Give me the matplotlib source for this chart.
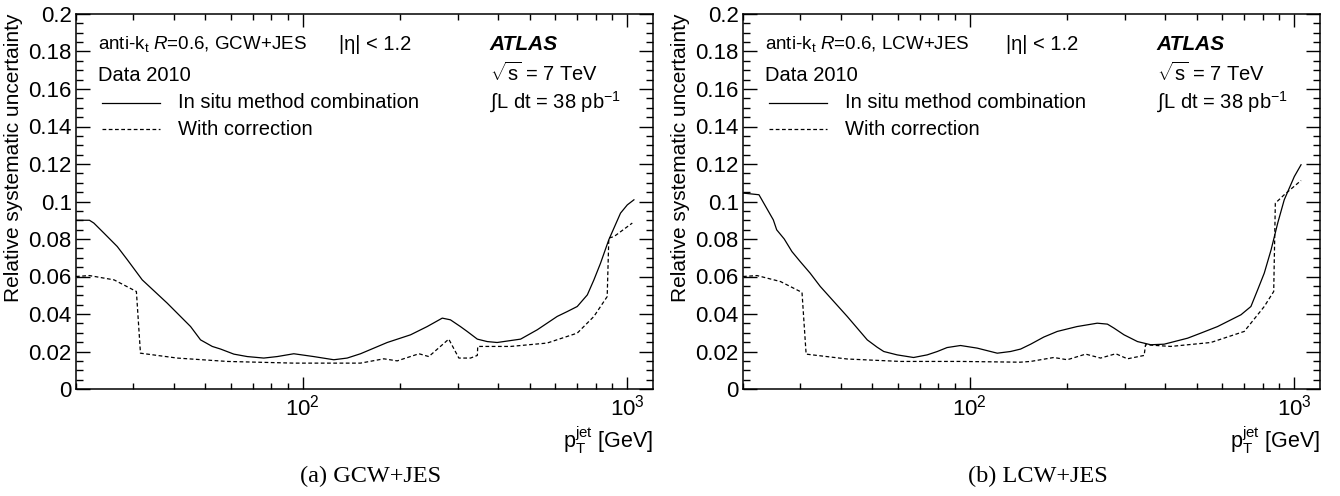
import math
import matplotlib
matplotlib.use("Agg")
import matplotlib.pyplot as plt
from matplotlib.ticker import FixedLocator, MultipleLocator, FuncFormatter, LogLocator, NullFormatter

plt.rcParams['font.family'] = ['Liberation Sans', 'DejaVu Sans']
plt.rcParams['mathtext.fontset'] = 'custom'
plt.rcParams['mathtext.rm'] = 'Liberation Sans'
plt.rcParams['mathtext.it'] = 'Liberation Sans:italic'
plt.rcParams['mathtext.bf'] = 'Liberation Sans:bold'

# GCW+JES
gcw_pt = [20, 22, 22.7, 24.4, 26.8, 28.8, 32, 38.2, 45.1, 48.4, 52.6, 55.8, 61.3, 67.4, 75.8,
          83.4, 93.8, 108, 124.6, 137, 150.6, 182, 214.8, 241.7, 269, 285, 306, 321, 345, 370,
          397, 469, 528, 608, 653, 701, 753, 789, 827, 877, 953, 1000, 1048]
gcw_insitu = [0.090, 0.090, 0.0885, 0.0831, 0.076, 0.0689, 0.0582, 0.0458, 0.0333, 0.0262,
              0.0227, 0.0213, 0.0186, 0.0173, 0.0165, 0.0173, 0.0188, 0.0173, 0.0156, 0.0165,
              0.0188, 0.0248, 0.0289, 0.0333, 0.0378, 0.0369, 0.0333, 0.0307, 0.0266, 0.0253,
              0.0248, 0.0266, 0.0316, 0.0387, 0.0413, 0.044, 0.0502, 0.0582, 0.0671, 0.0796,
              0.0938, 0.0982, 0.1009]
gcw_pt_corr = [20, 22, 26.2, 30.7, 31.6, 41, 58.5, 93.8, 150.6, 177.7, 195.4, 228, 244.5,
               281.7, 302.6, 328.7, 345, 346, 437, 566, 701, 789, 867, 877, 910, 1036]
gcw_corr = [0.060, 0.0605, 0.0582, 0.052, 0.0191, 0.0165, 0.0147, 0.0138, 0.0138, 0.0161,
            0.015, 0.0188, 0.0173, 0.0266, 0.0165, 0.0165, 0.0179, 0.0227, 0.0227, 0.0245,
            0.0298, 0.0387, 0.0493, 0.0805, 0.0813, 0.0885]

# LCW+JES
lcw_pt = [20, 22.4, 24.8, 25.4, 26.8, 28.3, 30.0, 32.2, 34.6, 41.9, 48.3, 51.8, 54.3, 59.7,
          67.1, 73.9, 79.4, 85.1, 93.6, 105.4, 121.5, 133.5, 143.4, 154, 169, 186, 214, 247,
          265.5, 278, 298.7, 328.6, 361, 397, 469, 515, 580, 685, 735, 771, 808, 848, 889,
          931, 1000, 1049]
lcw_insitu = [0.1045, 0.1036, 0.0902, 0.0849, 0.080, 0.0733, 0.068, 0.0618, 0.0547, 0.0387,
              0.0262, 0.0223, 0.020, 0.0182, 0.0168, 0.0182, 0.020, 0.0221, 0.0232, 0.0218,
              0.0191, 0.020, 0.0213, 0.0239, 0.0277, 0.0307, 0.0333, 0.0351, 0.0346, 0.0325,
              0.0289, 0.0253, 0.0236, 0.0239, 0.0271, 0.0298, 0.0333, 0.0396, 0.044, 0.0529,
              0.0618, 0.0742, 0.0885, 0.1009, 0.1133, 0.1196]
lcw_pt_corr = [20, 22.1, 26.1, 30.4, 31.3, 41.9, 61.1, 93.6, 143, 154, 181.5, 199.7, 227.5,
               253, 281.8, 306, 344.6, 347.9, 416, 553, 701, 808, 864, 874, 931, 1049]
lcw_corr = [0.060, 0.0605, 0.0573, 0.0515, 0.0186, 0.016, 0.0147, 0.0147, 0.0143, 0.0147,
            0.0168, 0.0156, 0.0186, 0.0165, 0.0188, 0.0161, 0.0179, 0.0236, 0.0227, 0.0248,
            0.0307, 0.044, 0.052, 0.0991, 0.1036, 0.1112]

W, H = 1340, 496
fs = 14.5
tick_fs = 16


def fmt_y(v, pos):
    return "%g" % round(v, 3)


def fmt_x(v, pos):
    return r'$\mathregular{10^{%d}}$' % round(math.log10(v))


def draw_panel(fig, left_px, pt, insitu, pt_corr, corr, calib, caption):
    ax = fig.add_axes([left_px / W, (H - 389) / H, 577 / W, 375 / H])
    ax.plot(pt, insitu, color='black', lw=0.9)
    ax.plot(pt_corr, corr, color='black', lw=0.9, dashes=(3, 2))
    ax.set_xscale('log')
    ax.set_xlim(20, 1200)
    ax.set_ylim(0, 0.2)

    ax.xaxis.set_major_locator(FixedLocator([100, 1000]))
    ax.xaxis.set_major_formatter(FuncFormatter(fmt_x))
    ax.xaxis.set_minor_locator(LogLocator(base=10, subs=range(2, 10)))
    ax.xaxis.set_minor_formatter(NullFormatter())
    ax.yaxis.set_major_locator(MultipleLocator(0.02))
    ax.yaxis.set_minor_locator(MultipleLocator(0.005))
    ax.yaxis.set_major_formatter(FuncFormatter(fmt_y))

    ax.tick_params(which='both', direction='in', top=True, right=True, labelsize=tick_fs,
                   width=1.0, colors='black')
    ax.tick_params(axis='y', which='major', length=10, pad=3)
    ax.tick_params(axis='y', which='minor', length=5)
    ax.tick_params(axis='x', which='major', length=9, pad=4)
    ax.tick_params(axis='x', which='minor', length=4.5)
    for s in ax.spines.values():
        s.set_linewidth(1.1)

    tr = ax.transAxes
    ax.text(0.038, 0.92, r'anti-k$_{\mathregular{t}}$ $R$=0.6, ' + calib, transform=tr,
            fontsize=13.5, va='center', ha='left')
    ax.text(0.455, 0.92, '|η| < 1.2', transform=tr, fontsize=fs, va='center', ha='left')
    ax.text(0.038, 0.837, 'Data 2010', transform=tr, fontsize=fs, va='center', ha='left')
    ax.plot([0.045, 0.146], [0.763, 0.763], transform=tr, color='black', lw=0.9)
    ax.plot([0.045, 0.146], [0.693, 0.693], transform=tr, color='black', lw=0.9, dashes=(3, 2))
    ax.text(0.177, 0.763, 'In situ method combination', transform=tr, fontsize=fs,
            va='center', ha='left')
    ax.text(0.177, 0.693, 'With correction', transform=tr, fontsize=fs, va='center', ha='left')
    ax.text(0.717, 0.92, 'ATLAS', transform=tr, fontsize=fs + 0.5, fontweight='bold',
            fontstyle='italic', va='center', ha='left')
    ax.text(0.717, 0.843, r'$\sqrt{\mathregular{s}}$ = 7 TeV', transform=tr, fontsize=fs,
            va='center', ha='left')
    ax.text(0.717, 0.765, r'$\int$L dt = 38 pb$^{\mathregular{-1}}$', transform=tr, fontsize=fs,
            va='center', ha='left')

    fig.text((left_px - 62) / W, 1 - 14 / H, 'Relative systematic uncertainty', rotation=90,
             fontsize=15, va='top', ha='center')
    fig.text((left_px + 577) / W, 1 - 440 / H, r'$\mathregular{p_{T}^{jet}}$ [GeV]',
             fontsize=15.5, va='center', ha='right')
    fig.text((left_px + 295) / W, 1 - 476 / H, caption, fontsize=17.5,
             family='Liberation Serif', va='center', ha='center')
    return ax


fig = plt.figure(figsize=(W / 100, H / 100), dpi=100)
draw_panel(fig, 76, gcw_pt, gcw_insitu, gcw_pt_corr, gcw_corr, 'GCW+JES', '(a) GCW+JES')
draw_panel(fig, 743, lcw_pt, lcw_insitu, lcw_pt_corr, lcw_corr, 'LCW+JES', '(b) LCW+JES')
fig.savefig('out.png', dpi=100)
